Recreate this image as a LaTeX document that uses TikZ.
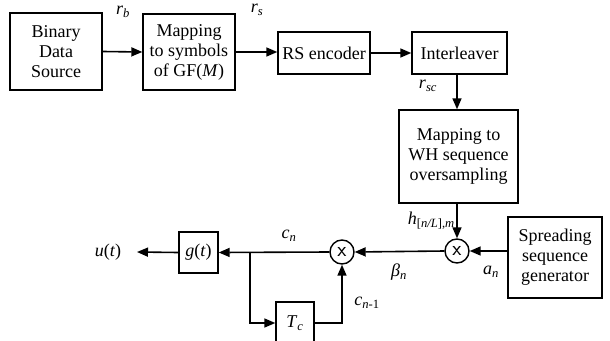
\documentclass[tikz,border=0pt]{standalone}
\usepackage{fontspec}
\setmainfont{Liberation Serif}
\usetikzlibrary{arrows.meta}
\newcommand{\mysub}[2]{\textit{#1}\textsubscript{\textit{#2}}}
\tikzset{
  blk/.style={draw, line width=1.4pt, align=center, inner sep=0pt, font=\fontsize{18}{20}\selectfont},
  mult/.style={draw, circle, line width=1.4pt, minimum size=24pt, inner sep=0pt, font=\fontsize{21}{21}\selectfont\sffamily},
  arr/.style={line width=1.6pt, -{Triangle[length=11pt,width=9pt]}},
  lbl/.style={font=\fontsize{18}{20}\selectfont, inner sep=0pt}
}
\begin{document}
\begin{tikzpicture}[x=1pt,y=-1pt]
\clip (0,0) rectangle (610,340);
\fill[white] (0,0) rectangle (610,340);
\node[blk, minimum width=92pt, minimum height=77pt] (bds) at (56,51.5) {Binary\\Data\\Source};
\node[blk, minimum width=92pt, minimum height=76pt] (map) at (189,52) {Mapping\\to symbols\\of GF(\textit{M})};
\node[blk, minimum width=92pt, minimum height=42pt] (rs) at (324,53) {RS encoder};
\node[blk, minimum width=95pt, minimum height=42pt] (il) at (459.5,53) {Interleaver};
\node[blk, minimum width=119pt, minimum height=93pt] (wh) at (458.5,156.5) {Mapping to\\WH sequence\\oversampling};
\node[blk, minimum width=94pt, minimum height=81pt] (ssg) at (555,257.5) {Spreading\\sequence\\generator};
\node[mult] (m1) at (457,251) {\raisebox{1pt}{x}};
\node[mult] (m2) at (342,252) {\raisebox{1pt}{x}};
\node[blk, minimum width=39pt, minimum height=41pt] (g) at (198.5,252.5) {\textit{g}(\textit{t})};
\node[blk, minimum width=38pt, minimum height=42pt] (tc) at (295,323) {\mysub{T}{c}};
\node[lbl] (u) at (108,252) {\textit{u}(\textit{t})};
\coordinate (ue) at (137,252);
\coordinate (br) at (250,252);

\draw[arr] (bds.east) -- (map.west);
\draw[arr] (map.east) -- (map.east -| rs.west);
\draw[arr] (rs.east) -- (il.west);
\draw[arr] (il.south -| m1) -- (wh.north -| m1);
\draw[arr] (wh.south -| m1) -- (m1.north);
\draw[arr] (ssg.west |- m1) -- (m1.east);
\draw[arr] (m1.west) -- (m2.east);
\draw[arr] (m2.west) -- (g.east);
\draw[arr] (g.west) -- (ue);
\draw[arr] (br) |- (tc.west);
\draw[arr] (tc.east) -| (m2.south);

\node[lbl] (lrb) at (123,12) {\mysub{r}{b}};
\node[lbl] (lrs) at (257,10) {\mysub{r}{s}};
\node[lbl] (lrsc) at (428,86) {\mysub{r}{sc}};
\node[lbl, anchor=east] (lh) at (455,221) {\textit{h}\textsubscript{[\textit{n/L}],\textit{m}}};
\node[lbl] (lan) at (491,272) {\mysub{a}{n}};
\node[lbl] (lbn) at (399,272) {\mysub{β}{n}};
\node[lbl] (lcn) at (289,236) {\mysub{c}{n}};
\node[lbl] (lcn1) at (367,303) {\textit{c}\textsubscript{\textit{n}-1}};
\end{tikzpicture}
\end{document}
